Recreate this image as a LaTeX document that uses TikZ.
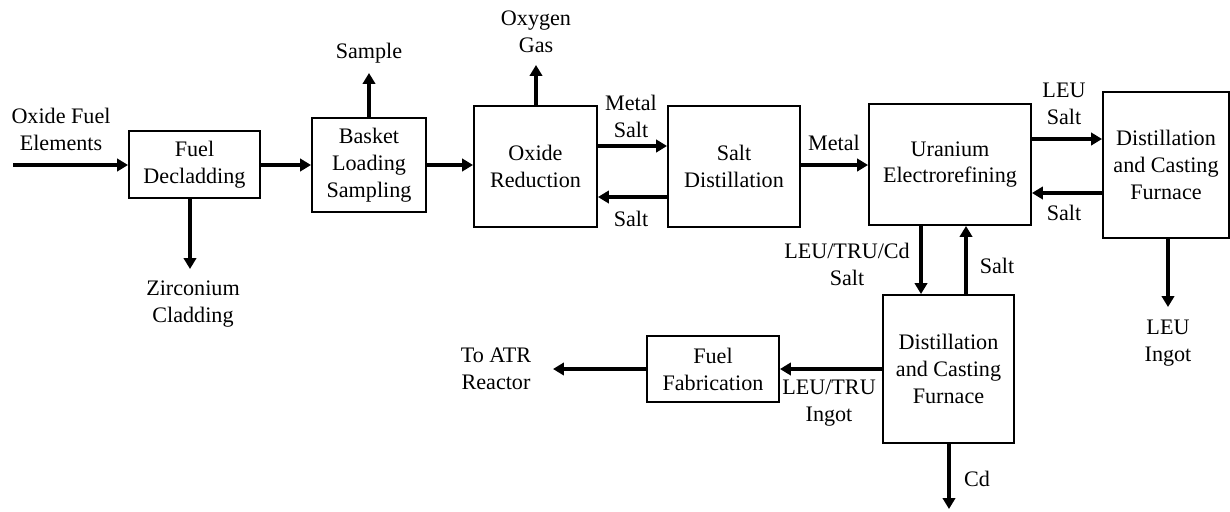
\documentclass[tikz,border=0pt]{standalone}
\usepackage{fontspec}
\setmainfont{Liberation Serif}
\usetikzlibrary{arrows.meta}
\begin{document}
\begin{tikzpicture}[x=0.02cm,y=-0.02cm,
  every node/.style={font=\fontsize{12.6}{15.3}\selectfont, align=center, inner sep=0pt},
  procbox/.style={draw, line width=1.1pt, minimum width=#1},
  flow/.style={line width=2.3pt, -{Triangle[length=6.2pt,width=7pt]}},
  lbl/.style={}]
\useasboundingbox (0,0) rectangle (1230,511);
% boxes
\node[procbox=2.62cm, minimum height=1.34cm] (fd) at (194.5,164.5) {Fuel\\Decladding};
\node[procbox=2.28cm, minimum height=1.88cm] (bl) at (369,165) {Basket\\Loading\\Sampling};
\node[procbox=2.46cm, minimum height=2.42cm] (or) at (535.5,166.5) {Oxide\\Reduction};
\node[procbox=2.64cm, minimum height=2.42cm] (sd) at (734,166.5) {Salt\\Distillation};
\node[procbox=3.24cm, minimum height=2.42cm] (ue) at (950,164.5) {Uranium\\Electrorefining};
\node[procbox=2.52cm, minimum height=2.92cm] (dfa) at (1166,165) {Distillation\\and Casting\\Furnace};
\node[procbox=2.62cm, minimum height=2.96cm] (dfb) at (948.5,369) {Distillation\\and Casting\\Furnace};
\node[procbox=2.64cm, minimum height=1.32cm] (ff) at (713,369) {Fuel\\Fabrication};
% free ends
\coordinate (inS) at (13,165);
\coordinate (zrE) at (190,269);
\coordinate (smE) at (369,73);
\coordinate (oxE) at (536,65);
\coordinate (leuE) at (1168,307);
\coordinate (atrE) at (553,369);
\coordinate (cdE) at (949,509);
% labels
\node[lbl] (tIn) at (61,129) {Oxide Fuel\\Elements};
\node[lbl] (tZr) at (193,304) {Zirconium\\Cladding};
\node[lbl] (tSm) at (369,53) {Sample};
\node[lbl] (tOx) at (536,32) {Oxygen\\Gas};
\node[lbl] (tMS) at (631,116) {Metal\\Salt};
\node[lbl] (tS1) at (631,219) {Salt};
\node[lbl] (tMe) at (834,143) {Metal};
\node[lbl] (tLS) at (1064,104) {LEU\\Salt};
\node[lbl] (tS2) at (1064,213) {Salt};
\node[lbl] (tLTC) at (847,264) {LEU/TRU/Cd\\Salt};
\node[lbl] (tS3) at (997,266) {Salt};
\node[lbl] (tLI) at (1168,343) {LEU\\Ingot};
\node[lbl] (tLTI) at (829,403) {LEU/TRU\\Ingot};
\node[lbl] (tATR) at (496,369) {To ATR\\Reactor};
\node[lbl] (tCd) at (977,479) {Cd};
% connectors
\draw[flow] (inS) -- (fd.west |- inS);
\draw[flow] (fd.east |- 0,165) -- (bl.west |- 0,165);
\draw[flow] (fd.south -| zrE) -- (zrE);
\draw[flow] (bl.north) -- (smE);
\draw[flow] (bl.east |- 0,165) -- (or.west |- 0,165);
\draw[flow] (or.north -| oxE) -- (oxE);
\draw[flow] (or.east |- 0,146) -- (sd.west |- 0,146);
\draw[flow] (sd.west |- 0,197) -- (or.east |- 0,197);
\draw[flow] (sd.east |- 0,165) -- (ue.west |- 0,165);
\draw[flow] (ue.east |- 0,139) -- (dfa.west |- 0,139);
\draw[flow] (dfa.west |- 0,193) -- (ue.east |- 0,193);
\draw[flow] (ue.south -| 921,0) -- (dfb.north -| 921,0);
\draw[flow] (dfb.north -| 966,0) -- (ue.south -| 966,0);
\draw[flow] (dfa.south -| leuE) -- (leuE);
\draw[flow] (dfb.west) -- (ff.east);
\draw[flow] (ff.west) -- (atrE);
\draw[flow] (dfb.south -| cdE) -- (cdE);
\end{tikzpicture}
\end{document}
